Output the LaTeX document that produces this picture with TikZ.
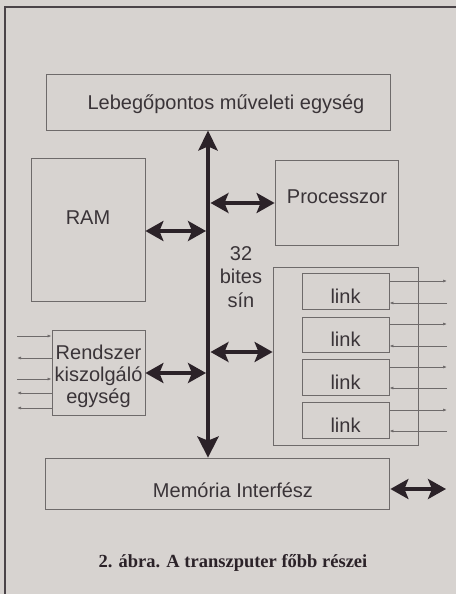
\documentclass[tikz,border=0pt]{standalone}
\usepackage{fontspec}
\setmainfont{Liberation Serif}
\setsansfont{Liberation Sans}
\usetikzlibrary{arrows.meta}
\definecolor{bg}{HTML}{D7D3D0}
\definecolor{boxline}{HTML}{6E6A6A}
\definecolor{txt}{HTML}{3A3438}
\definecolor{arr}{HTML}{2B2228}
\definecolor{framec}{HTML}{4A4448}
\tikzset{
  box/.style={draw=boxline, line width=0.8pt, rectangle, inner sep=0pt},
  lbl/.style={font=\sffamily\fontsize{20}{22}\selectfont, text=txt, inner sep=0pt, align=center},
  dbl/.style={draw=arr, line width=4.5pt, {Stealth[length=18pt,width=20pt,inset=4pt]}-{Stealth[length=18pt,width=20pt,inset=4pt]}},
  sig/.style={draw=boxline, line width=0.7pt},
  sigarr/.style={-{Latex[length=4pt,width=3pt]}}
}
\begin{document}
\begin{tikzpicture}[x=1pt,y=-1pt]
\path[use as bounding box, fill=bg] (0,0) rectangle (456,594);
\draw[framec, line width=1.5pt] (5,594) -- (5,7) -- (456,7);

% boxes
\node[box, minimum width=344pt, minimum height=56pt] (lebeg) at (218,102) {};
\node[lbl] (lebegt) at (226,104) {Lebegőpontos műveleti egység};
\node[box, minimum width=114pt, minimum height=143pt] (ram) at (88,229.5) {};
\node[lbl] (ramt) at (88,218) {RAM};
\node[box, minimum width=123pt, minimum height=85pt] (proc) at (336.5,202.5) {};
\node[lbl] (proct) at (337,197) {Processzor};
\node[box, minimum width=145pt, minimum height=178pt] (links) at (345.5,356) {};
\node[box, minimum width=87pt, minimum height=36pt] (l1) at (345.5,291) {};
\node[box, minimum width=87pt, minimum height=35pt] (l2) at (345.5,334.5) {};
\node[box, minimum width=87pt, minimum height=36pt] (l3) at (345.5,377) {};
\node[box, minimum width=87pt, minimum height=36pt] (l4) at (345.5,420) {};
\foreach \n in {l1,l2,l3,l4}{\node[lbl] (\n t) at ([yshift=-5pt]\n.center) {link};}
\node[box, minimum width=93pt, minimum height=85pt] (rsz) at (98.5,372.5) {};
\node[lbl] (rszt) at (98.5,376) {Rendszer\\kiszolgáló\\egység};
\node[box, minimum width=344pt, minimum height=51pt] (mem) at (217,483.5) {};
\node[lbl] (memt) at (233,490) {Memória Interfész};
\node[lbl, font=\sffamily\fontsize{20}{23.5}\selectfont] (bus) at (241,277) {32\\bites\\sín};

% bus
\coordinate (busx) at (208,0);
\draw[draw=arr, line width=4.5pt, {Stealth[length=20pt,width=19pt,inset=4pt]}-{Stealth[length=21pt,width=21pt,inset=4pt]}] (lebeg.south -| busx) -- (mem.north -| busx);

% side arrows
\coordinate (aram) at (206,231);
\draw[dbl] (ram.east |- aram) -- (aram);
\coordinate (aproc) at (210.5,203);
\draw[dbl] (aproc) -- (proc.west |- aproc);
\coordinate (alink) at (210.5,352);
\draw[dbl] (alink) -- (links.west |- alink);
\coordinate (arsz) at (206,373);
\draw[dbl] (rsz.east |- arsz) -- (arsz);
\coordinate (amem) at (446,489);
\draw[dbl, shorten <=1pt] (mem.east |- amem) -- (amem);

% link signals
\foreach \n/\yt/\yb in {l1/281/303, l2/324/346, l3/367/388, l4/410/431}{
  \coordinate (\n o) at (447,\yt);
  \coordinate (\n i) at (447,\yb);
  \draw[sig, sigarr] (\n.east |- \n o) -- (\n o);
  \draw[sig, sigarr] (\n i) -- (\n.east |- \n i);
}

% system signals
\foreach \k/\y in {a/336, b/358, c/379, d/393, e/408}{
  \coordinate (s\k) at (17,\y);
}
\draw[sig, sigarr] (sa) -- (rsz.west |- sa);
\draw[sig, sigarr] (rsz.west |- sb) -- (sb);
\draw[sig, sigarr] (sc) -- (rsz.west |- sc);
\draw[sig, sigarr] (rsz.west |- sd) -- (sd);
\draw[sig, sigarr] (rsz.west |- se) -- (se);

% caption
\node[font=\rmfamily\bfseries\fontsize{18.5}{20}\selectfont, text=arr, inner sep=0pt] (cap) at (233,563) {2. ábra. A transzputer főbb részei};
\end{tikzpicture}
\end{document}
